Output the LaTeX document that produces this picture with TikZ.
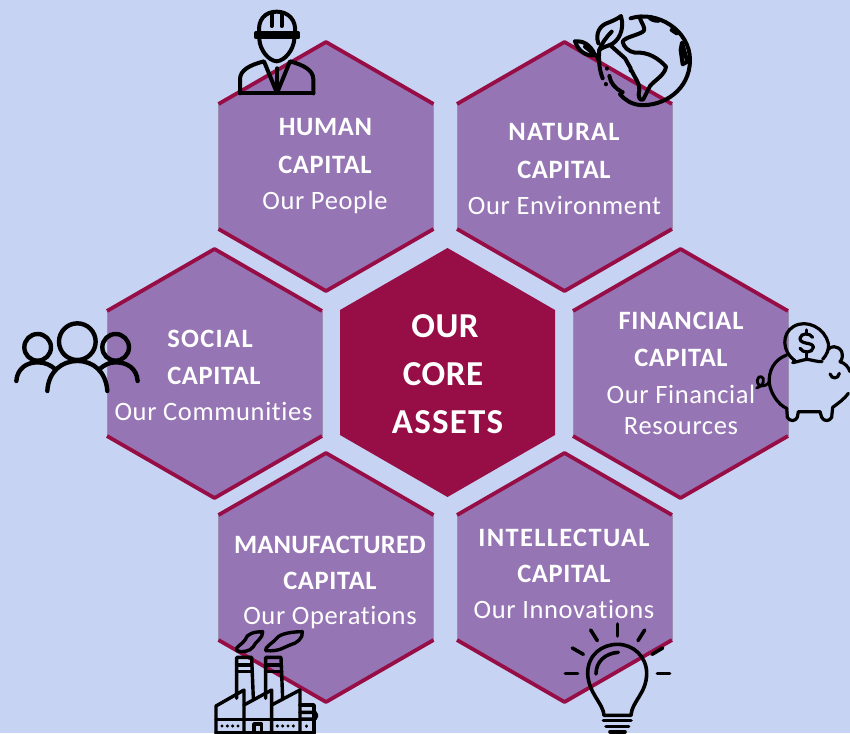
\documentclass[tikz,border=0pt]{standalone}
\usepackage{fontspec}
\setmainfont{Carlito}[Ligatures=NoCommon]
\definecolor{bgc}{HTML}{C7D3F2}
\definecolor{hexc}{HTML}{9675B4}
\definecolor{crim}{HTML}{970D46}
\definecolor{sidec}{HTML}{9A8FB0}
\tikzset{
  capt/.style={font=\fontsize{26.5}{26.5}\selectfont\bfseries\addfontfeatures{LetterSpace=#1},text=white,inner sep=0pt},
  capt/.default=3,
  subt/.style={font=\fontsize{26.5}{26.5}\selectfont\addfontfeatures{LetterSpace=2.4},text=white,inner sep=0pt},
  coret/.style={font=\fontsize{35}{35}\selectfont\bfseries\addfontfeatures{LetterSpace=#1},text=white,inner sep=0pt},
  coret/.default=1.5,
  icon/.style={draw=black,line width=4pt,line cap=round,line join=round,fill=none},
  zoomed/.style={shift={#1},x=0.3333pt,y=-0.3333pt}
}
\newcommand{\hexshape}[2]{%
  \fill[hexc] (#1-107.5,#2+62) -- (#1,#2) -- (#1+107.5,#2+62) -- (#1+107.5,#2+187) -- (#1,#2+249) -- (#1-107.5,#2+187) -- cycle;
  \draw[sidec,line width=0.8pt] (#1-107.5,#2+62) -- (#1-107.5,#2+187) (#1+107.5,#2+62) -- (#1+107.5,#2+187);
  \draw[crim,line width=3.8pt,line join=round] (#1-107.5,#2+62) -- (#1,#2) -- (#1+107.5,#2+62);
  \draw[crim,line width=3.8pt,line join=round] (#1-107.5,#2+187) -- (#1,#2+249) -- (#1+107.5,#2+187);
}
\begin{document}
\begin{tikzpicture}[x=1pt,y=-1pt]
\useasboundingbox (0,0) rectangle (850,733);
\fill[bgc] (0,0) rectangle (850,733);
\hexshape{326}{42}
\hexshape{564.5}{42}
\hexshape{214.5}{249}
\hexshape{680.5}{249}
\hexshape{326}{453}
\hexshape{564.5}{453}
\fill[crim] (340,310) -- (447.5,248) -- (555,310) -- (555,435) -- (447.5,497) -- (340,435) -- cycle;

\node[capt=2.4] (h1) at (325.5,127.5) {HUMAN};
\node[capt=2.4] (h2) at (325,164.5) {CAPITAL};
\node[subt] (h3) at (325,202) {Our People};
\node[capt=4.5] (n1) at (564,132.5) {NATURAL};
\node[capt=2.4] (n2) at (564,169.5) {CAPITAL};
\node[subt] (n3) at (564.5,205) {Our Environment};
\node[capt=5] (s1) at (210,338.5) {SOCIAL};
\node[capt=2.4] (s2) at (214,375.5) {CAPITAL};
\node[subt] (s3) at (213.5,411) {Our Communities};
\node[capt=3] (f1) at (681,320.5) {FINANCIAL};
\node[capt=2.4] (f2) at (681,357.5) {CAPITAL};
\node[subt] (f3) at (681,394) {Our Financial};
\node[subt] (f4) at (681,426) {Resources};
\node[capt=0.8] (m1) at (330,544.5) {MANUFACTURED};
\node[capt=2.4] (m2) at (330,580.5) {CAPITAL};
\node[subt] (m3) at (330,618) {Our Operations};
\node[capt=5] (i1) at (564,537.5) {INTELLECTUAL};
\node[capt=2.4] (i2) at (564,573.5) {CAPITAL};
\node[subt] (i3) at (564,609.5) {Our Innovations};
\node[coret] (c1) at (445,326) {OUR};
\node[coret] (c2) at (443,374) {CORE};
\node[coret=3.5] (c3) at (447.5,422) {ASSETS};

% worker
\begin{scope}[zoomed={(200,0)}]
\draw[icon] (178,100) .. controls (172,60) and (195,35) .. (230,35) .. controls (265,35) and (290,60) .. (285,100);
\draw[icon] (168,100) -- (295,100) -- (295,112) -- (168,112) -- cycle;
\draw[icon] (215,40) -- (215,78) (245,40) -- (245,78);
\draw[icon] (178,118) .. controls (180,150) and (205,182) .. (230,184) .. controls (255,182) and (280,150) .. (283,118);
\draw[icon] (120,280) -- (120,238) .. controls (120,210) and (150,195) .. (192,184) -- (228,272);
\draw[icon] (340,280) -- (340,238) .. controls (340,210) and (310,195) .. (270,184) -- (234,272);
\draw[icon] (120,280) -- (340,280);
\draw[icon] (232,205) -- (232,272);
\end{scope}

% globe
\begin{scope}[zoomed={(560,0)}]
\draw[icon] (212,55) .. controls (290,30) and (390,90) .. (390,180) .. controls (390,270) and (310,320) .. (240,315) .. controls (215,313) and (195,300) .. (180,283);
\draw[icon] (148,228) .. controls (152,250) and (165,265) .. (188,277);
\draw[icon] (137,252) -- (137,253);
\draw[icon] (140,205) -- (140,206);
\draw[icon] (118,150) .. controls (115,180) and (118,210) .. (128,235);
\draw[icon] (115,130) .. controls (105,100) and (120,75) .. (145,68) .. controls (160,62) and (175,55) .. (183,48) .. controls (195,90) and (175,125) .. (150,135) .. controls (135,140) and (122,145) .. (118,150);
\draw[icon] (118,150) .. controls (125,130) and (140,110) .. (155,95);
\draw[icon] (45,124) .. controls (65,122) and (90,130) .. (105,165) .. controls (80,170) and (55,155) .. (45,124);
\draw[icon] (75,140) -- (110,168) -- (118,185);
\draw[icon] (150,135) -- (195,175) -- (212,205) -- (212,212);
\draw[icon] (240,55) .. controls (245,70) and (255,80) .. (252,92) .. controls (240,105) and (195,110) .. (188,125) .. controls (190,140) and (205,155) .. (225,158) .. controls (265,155) and (295,175) .. (318,200) .. controls (315,225) and (285,240) .. (270,258) -- (250,298) .. controls (240,305) and (232,290) .. (238,270) .. controls (240,250) and (225,235) .. (215,212);
\draw[icon] (270,55) .. controls (280,62) and (295,65) .. (300,60);
\draw[icon] (335,90) -- (350,100);
\draw[icon] (366,128) -- (382,185) -- (368,193) -- (362,150) -- cycle;
\end{scope}

% people
\begin{scope}[zoomed={(0,300)}]
\draw[icon,line width=4.4pt] (113,142) circle[radius=40];
\draw[icon,line width=4.4pt] (232,125) circle[radius=55];
\draw[icon,line width=4.4pt] (347,142) circle[radius=40];
\draw[icon,line width=4.4pt] (142,273) .. controls (145,215) and (185,183) .. (232,183) .. controls (280,183) and (318,215) .. (322,273);
\draw[icon,line width=4.4pt] (49,243) .. controls (52,205) and (80,187) .. (113,187) .. controls (135,187) and (152,195) .. (166,208);
\draw[icon,line width=4.4pt] (413,243) .. controls (410,205) and (382,187) .. (347,187) .. controls (328,187) and (312,195) .. (298,208);
\end{scope}

% piggy bank
\begin{scope}[zoomed={(740,310)}]
\begin{scope}[every path/.style={icon,line width=3.2pt}]
\draw (165,152) .. controls (125,125) and (125,70) .. (160,50) .. controls (200,25) and (255,55) .. (265,100) .. controls (268,118) and (260,135) .. (248,148);
\draw (158,158) .. controls (175,155) and (185,150) .. (202,148) .. controls (215,150) and (230,155) .. (246,155);
\draw (200,148) -- (200,128);
\draw (200,60) -- (200,70);
\draw (218,82) .. controls (210,68) and (182,68) .. (180,85) .. controls (180,105) and (220,95) .. (220,112) .. controls (218,130) and (188,130) .. (180,115);
\draw (140,135) .. controls (100,150) and (85,185) .. (88,220) .. controls (92,250) and (115,285) .. (140,295) -- (142,322) .. controls (150,335) and (165,335) .. (172,322) -- (175,305) -- (240,305) -- (245,322) .. controls (252,335) and (268,335) .. (275,322) -- (278,292) .. controls (295,280) and (315,265) .. (325,250);
\draw (265,118) .. controls (270,108) and (295,105) .. (305,125) .. controls (310,140) and (305,150) .. (300,155) .. controls (315,160) and (325,170) .. (330,185);
\draw (270,192) .. controls (275,208) and (295,208) .. (298,190);
\draw[line width=2.8pt] (88,215) .. controls (75,235) and (50,232) .. (52,210) .. controls (55,192) and (75,200) .. (70,215) .. controls (68,228) and (58,230) .. (50,234);
\end{scope}
\end{scope}

% factory
\begin{scope}[zoomed={(200,620)}]
\begin{scope}[every path/.style={icon,line width=3.4pt}]
\draw (110,92) .. controls (105,80) and (125,75) .. (135,60) .. controls (140,40) and (165,35) .. (188,35) .. controls (190,55) and (165,65) .. (160,80) .. controls (150,95) and (125,98) .. (110,92);
\draw (197,92) .. controls (195,80) and (215,72) .. (230,55) .. controls (240,40) and (280,35) .. (307,35) .. controls (310,55) and (290,70) .. (270,75) .. controls (250,82) and (240,95) .. (197,92);
\draw (110,235) -- (110,112) -- (155,112) -- (160,235);
\draw (110,135) -- (155,135) (110,155) -- (157,155);
\draw (197,235) -- (197,112) -- (243,112) -- (248,235);
\draw (197,135) -- (243,135) (197,155) -- (245,155);
\draw (48,339) -- (48,258) -- (132,210) -- (132,339);
\draw (132,255) -- (215,210) -- (215,339);
\draw (215,255) -- (300,210) -- (300,339);
\draw (300,255) -- (342,255) -- (342,339);
\draw (300,277) -- (345,277) .. controls (352,282) and (352,292) .. (345,297) -- (300,297);
\draw (48,298) -- (342,298);
\draw (162,339) -- (162,312) -- (185,312) -- (185,339);
\draw (48,339) -- (342,339);
\draw[dash pattern=on 0pt off 5.33pt] (66,318) -- (118,318);
\draw[dash pattern=on 0pt off 5.33pt] (232,318) -- (285,318);
\draw (320,318) -- (320,319);
\end{scope}
\end{scope}

% bulb
\begin{scope}[zoomed={(550,610)}]
\begin{scope}[every path/.style={icon,line width=3.6pt}]
\draw (162,316) .. controls (160,280) and (115,250) .. (113,190) .. controls (113,135) and (155,103) .. (203,103) .. controls (250,103) and (290,140) .. (290,190) .. controls (290,250) and (245,275) .. (243,316) -- cycle;
\draw (138,192) .. controls (138,155) and (165,130) .. (205,127);
\draw (160,332) -- (243,332);
\draw (168,350) -- (236,350);
\draw (180,366) -- (225,366);
\draw (203,42) -- (203,78);
\draw (122,60) -- (142,92);
\draw (284,60) -- (264,92);
\draw (67,114) -- (100,133);
\draw (338,114) -- (306,133);
\draw (46,190) -- (83,190);
\draw (322,190) -- (359,190);
\end{scope}
\end{scope}
\end{tikzpicture}
\end{document}
